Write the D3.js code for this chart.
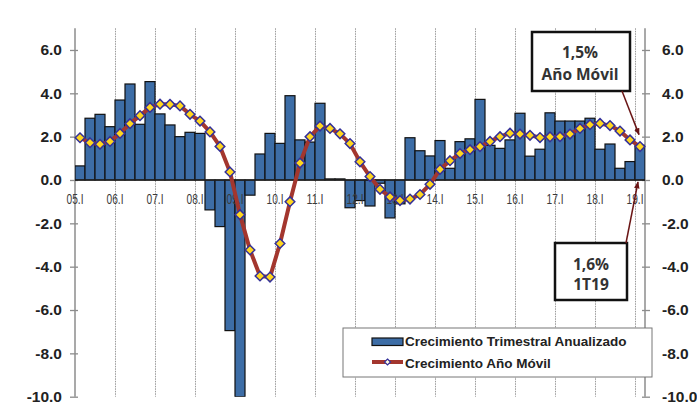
<!DOCTYPE html>
<html><head><meta charset="utf-8">
<script src="https://cdn.jsdelivr.net/npm/d3@7"></script>
<style>html,body{margin:0;padding:0;background:#fff;} svg{display:block;}</style>
</head><body><svg id="c" width="697" height="407"></svg>
<script>
const quarters = [
"05Q1","05Q2","05Q3","05Q4","06Q1","06Q2","06Q3","06Q4","07Q1","07Q2","07Q3","07Q4",
"08Q1","08Q2","08Q3","08Q4","09Q1","09Q2","09Q3","09Q4","10Q1","10Q2","10Q3","10Q4",
"11Q1","11Q2","11Q3","11Q4","12Q1","12Q2","12Q3","12Q4","13Q1","13Q2","13Q3","13Q4",
"14Q1","14Q2","14Q3","14Q4","15Q1","15Q2","15Q3","15Q4","16Q1","16Q2","16Q3","16Q4",
"17Q1","17Q2","17Q3","17Q4","18Q1","18Q2","18Q3","18Q4","19Q1"];
const yearStarts = ["05Q1","06Q1","07Q1","08Q1","09Q1","10Q1","11Q1","12Q1","13Q1","14Q1","15Q1","16Q1","17Q1","18Q1","19Q1"];
const yearLabels = ["05.I","06.I","07.I","08.I","09.I","10.I","11.I","12.I","13.I","14.I","15.I","16.I","17.I","18.I","19.I"];
const quarterlyGrowth = [
0.65,2.85,3.03,2.46, 3.69,4.43,2.57,4.54, 3.05,2.54,2.00,2.20,
2.15,-1.38,-2.15,-6.95, -10.0,-0.70,1.20,2.15, 1.69,3.89,1.85,1.75,
3.54,0.05,0.05,-1.28, -0.95,-1.20,-0.15,-1.75, -1.10,1.95,1.35,1.11,
1.82,0.54,1.77,1.90, 3.72,1.60,1.46,1.85, 3.08,1.10,1.42,3.10,
2.72,2.72,2.72,2.85, 1.42,1.66,0.54,0.85, 1.60];
const annualGrowth = [
1.95,1.72,1.65,1.78, 2.15,2.60,2.97,3.35, 3.50,3.49,3.42,3.03,
2.72,2.22,1.55,0.37, -1.60,-3.23,-4.43,-4.48, -2.93,-1.00,0.78,2.00,
2.49,2.38,2.13,1.68, 0.84,0.16,-0.43,-0.78, -0.95,-0.88,-0.67,-0.20,
0.49,0.89,1.22,1.40, 1.54,1.78,2.00,2.16, 2.12,2.06,1.96,1.99,
2.00,2.12,2.38,2.55, 2.61,2.51,2.26,1.85, 1.54];
const yTicks = [6,4,2,0,-2,-4,-6,-8,-10];
const legendLabels = ["Crecimiento Trimestral Anualizado","Crecimiento Año Móvil"];
const noteAnnual = ["1,5%","Año Móvil"];
const noteQuarter = ["1,6%","1T19"];

const barColor = "#3d6da6", lineColor = "#a3362e", markFill = "#ffd61f", markStroke = "#33309a";
const svg = d3.select("#c");
const x = d3.scaleBand().domain(quarters).range([75,645]).padding(0);
const y = d3.scaleLinear().domain([-10,7]).range([396.7,28.3]);
const bw = x.bandwidth();
const cx = q => x(q) + bw/2;

svg.append("defs").append("clipPath").attr("id","plot")
  .append("rect").attr("x",75).attr("y",y(7)).attr("width",570).attr("height",y(-10)-y(7));
const mk = svg.select("defs").append("marker").attr("id","arr").attr("viewBox","0 0 10 10")
  .attr("refX",9).attr("refY",5).attr("markerWidth",7).attr("markerHeight",7).attr("orient","auto")
  .attr("markerUnits","userSpaceOnUse");
mk.append("path").attr("d","M0,1 L10,5 L0,9 Z").attr("fill","#6a1515");

// gridlines
svg.append("g").selectAll("line").data(yearStarts.slice(1)).join("line")
  .attr("x1",d=>x(d)+0.5).attr("x2",d=>x(d)+0.5).attr("y1",y(7)).attr("y2",y(-10))
  .attr("stroke","#9a9a9a").attr("stroke-width",1).attr("stroke-dasharray","1.5,1");

// axes lines
svg.append("line").attr("x1",75).attr("x2",75).attr("y1",y(7)).attr("y2",y(-10)).attr("stroke","#8c8c8c").attr("stroke-width",1.5);
svg.append("line").attr("x1",645).attr("x2",645).attr("y1",y(7)).attr("y2",y(-10)).attr("stroke","#8c8c8c").attr("stroke-width",1.5);

const fmt = d => d.toFixed(1);
const yl = svg.append("g").attr("transform","translate(78,0)")
  .call(d3.axisLeft(y).tickValues(yTicks).tickSize(8).tickPadding(8).tickFormat(fmt));
const yr = svg.append("g").attr("transform","translate(642,0)")
  .call(d3.axisRight(y).tickValues(yTicks).tickSize(8).tickPadding(12).tickFormat(fmt));
[yl,yr].forEach(g=>{
  g.select(".domain").remove();
  g.selectAll(".tick line").attr("stroke","#8c8c8c").attr("stroke-width",1.3);
  g.selectAll(".tick text").attr("fill","#222").style("font-family","'Liberation Sans',Arial,sans-serif")
   .style("font-size","15.5px").style("font-weight","bold");
});

// bars
svg.append("g").attr("clip-path","url(#plot)").selectAll("rect").data(quarters).join("rect")
  .attr("x",d=>x(d)).attr("width",bw)
  .attr("y",(d,i)=>y(Math.max(0,quarterlyGrowth[i])))
  .attr("height",(d,i)=>Math.abs(y(quarterlyGrowth[i])-y(0)))
  .attr("fill",barColor).attr("stroke","#111").attr("stroke-width",1.2);

// zero line
svg.append("line").attr("x1",75).attr("x2",645).attr("y1",y(0)).attr("y2",y(0)).attr("stroke","#222").attr("stroke-width",1.5);

// x labels
svg.append("g").selectAll("text").data(yearStarts).join("text")
  .attr("x",d=>x(d)).attr("y",y(0)+24).attr("text-anchor","middle")
  .attr("textLength",17).attr("lengthAdjust","spacingAndGlyphs")
  .style("font-family","'Liberation Sans',Arial,sans-serif").style("font-size","15px").attr("fill","#3a3a3a")
  .text((d,i)=>yearLabels[i]);

// line
const line = d3.line().x((d,i)=>cx(quarters[i])).y(d=>y(d));
svg.append("path").datum(annualGrowth).attr("d",line).attr("fill","none")
  .attr("stroke",lineColor).attr("stroke-width",4).attr("stroke-linejoin","round");
const dia = r => `M0,${-r}L${r},0L0,${r}L${-r},0Z`;
svg.append("g").selectAll("path").data(annualGrowth).join("path")
  .attr("transform",(d,i)=>`translate(${cx(quarters[i])},${y(d)})`)
  .attr("d",dia(4.8)).attr("fill",markFill).attr("stroke",markStroke).attr("stroke-width",1.5);

// legend
const lg = svg.append("g");
lg.append("rect").attr("x",343).attr("y",328).attr("width",309).attr("height",49).attr("fill","#fff").attr("stroke","#777").attr("stroke-width",1);
lg.append("rect").attr("x",372).attr("y",338).attr("width",31).attr("height",7.5).attr("fill",barColor).attr("stroke","#111").attr("stroke-width",1.2);
lg.append("line").attr("x1",372).attr("x2",403).attr("y1",362).attr("y2",362).attr("stroke",lineColor).attr("stroke-width",4);
lg.append("path").attr("transform","translate(387.5,362)").attr("d",dia(3)).attr("fill","#fffbe0").attr("stroke",markStroke).attr("stroke-width",1.2);
lg.selectAll("text").data(legendLabels).join("text")
  .attr("x",405).attr("y",(d,i)=>346+i*22)
  .style("font-family","'Liberation Sans',Arial,sans-serif").style("font-size","13.5px").style("font-weight","bold").attr("fill","#222")
  .text(d=>d);

// annotations
const last = quarters[quarters.length-1];
const noteFont = "'Open Sans',sans-serif";
function note(bx,by,bwid,bh,lines,ys,tx){
  const g = svg.append("g");
  g.append("rect").attr("x",bx).attr("y",by).attr("width",bwid).attr("height",bh).attr("fill","#fff").attr("stroke","#111").attr("stroke-width",2.5);
  g.selectAll("text").data(lines).join("text").attr("x",tx).attr("y",(d,i)=>ys[i]).attr("text-anchor","middle")
   .style("font-family",noteFont).style("font-size","15.5px").style("font-weight","bold").attr("fill","#333").text(d=>d);
}
note(532,32,98,59,noteAnnual,[58,80],580);
note(555,243,72,57,noteQuarter,[270,290],591);
svg.append("line").attr("x1",622).attr("y1",91).attr("x2",cx(last)-1).attr("y2",y(annualGrowth[annualGrowth.length-1])-12)
  .attr("stroke","#6a1515").attr("stroke-width",1.5).attr("marker-end","url(#arr)");
svg.append("line").attr("x1",626).attr("y1",243).attr("x2",cx(last)-2).attr("y2",y(0)+2)
  .attr("stroke","#6a1515").attr("stroke-width",1.5).attr("marker-end","url(#arr)");
</script></body></html>
